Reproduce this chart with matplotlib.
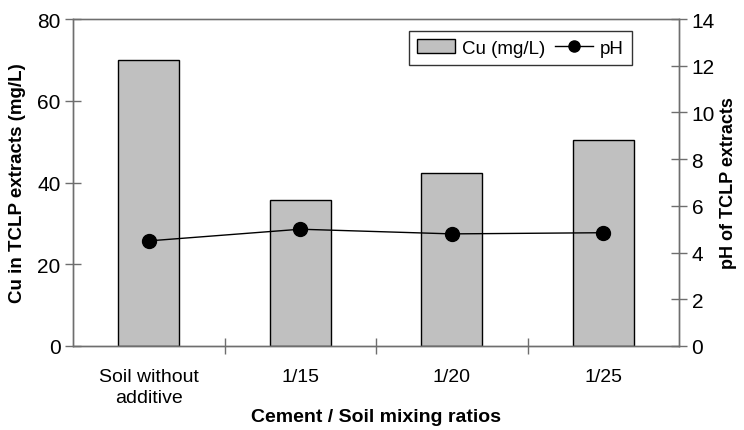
import matplotlib
matplotlib.use("Agg")
import matplotlib.pyplot as plt
from matplotlib.lines import Line2D
from matplotlib.patches import Patch

plt.rcParams['font.family'] = ['Liberation Sans', 'DejaVu Sans']

categories = ["Soil without\nadditive", "1/15", "1/20", "1/25"]
cu_values = [70.0, 35.8, 42.4, 50.5]
ph_values = [4.5, 5.0, 4.8, 4.85]
cu_ticks = [0, 20, 40, 60, 80]
ph_ticks = [0, 2, 4, 6, 8, 10, 12, 14]

axis_col = "#6e6e6e"

fig = plt.figure(figsize=(7.44, 4.31), dpi=100)
ax = fig.add_axes([73/744, 1-347/431, 606/744, 327/431])
ax2 = ax.twinx()

x = list(range(len(categories)))
ax.bar(x, cu_values, width=0.4, color="#c0c0c0", edgecolor="black", linewidth=1.0, zorder=2)
ax2.plot(x, ph_values, color="black", linewidth=1.0, marker="o", markersize=10, zorder=3)

ax.set_xlim(-0.5, len(categories) - 0.5)
ax.set_ylim(0, 80)
ax2.set_ylim(0, 14)
ax.set_yticks(cu_ticks)
ax2.set_yticks(ph_ticks)

# category separators as x ticks
ax.set_xticks([i + 0.5 for i in range(len(categories) - 1)], minor=False)
ax.set_xticklabels([])
ax.set_xticks(x, minor=True)
ax.set_xticklabels(categories, minor=True, fontsize=14, linespacing=1.3)
ax.tick_params(axis="x", which="minor", length=0, pad=16)
ax.tick_params(axis="x", which="major", direction="inout", length=12, width=1, color=axis_col)

ax.tick_params(axis="y", direction="inout", length=12, width=1, color=axis_col, labelsize=15, pad=3)
ax2.tick_params(axis="y", direction="inout", length=12, width=1, color=axis_col, labelsize=15, pad=3)

for a in (ax, ax2):
    for s in a.spines.values():
        s.set_color(axis_col)
        s.set_linewidth(1.0)
ax.spines["top"].set_color("#999999")

ax.set_ylabel("Cu in TCLP extracts (mg/L)", fontsize=13.5, fontweight="bold", labelpad=8)
ax2.set_ylabel("pH of TCLP extracts", fontsize=13, fontweight="bold", labelpad=4)
ax.set_xlabel("Cement / Soil mixing ratios", fontsize=14, fontweight="bold", labelpad=1)

handles = [Patch(facecolor="#c0c0c0", edgecolor="black", linewidth=1.0),
           Line2D([], [], color="black", linewidth=1.0, marker="o", markersize=8)]
leg = ax2.legend(handles, ["Cu (mg/L)", "pH"], ncol=2, loc="upper left",
                 bbox_to_anchor=((409-73)/606, 1-12/327), fontsize=13.5,
                 frameon=True, fancybox=False, edgecolor="black",
                 handlelength=2.0, handletextpad=0.4, columnspacing=0.5,
                 borderpad=0.45, borderaxespad=0)
leg.get_frame().set_linewidth(1.0)

fig.savefig("out.png", dpi=100)
